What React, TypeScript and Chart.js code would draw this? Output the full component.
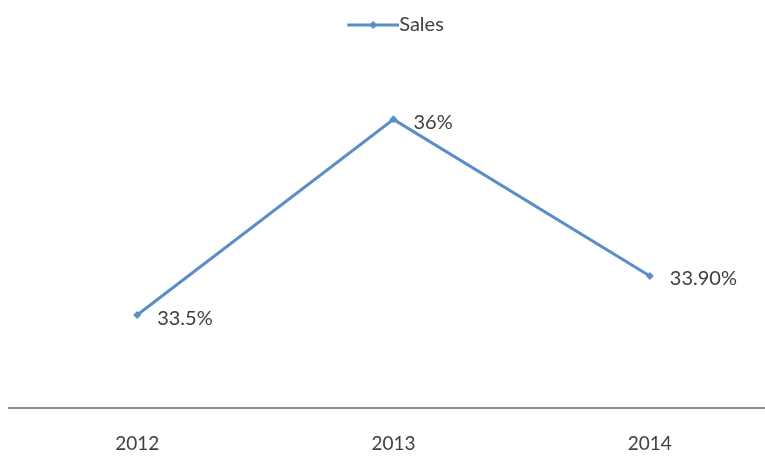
import React, { useEffect, useRef } from "react";
import { Chart, registerables } from "chart.js";

Chart.register(...registerables);

const categories = ["2012", "2013", "2014"];
const salesValues = [33.5, 36, 34];
const valueLabels = ["33.5%", "36%", "33.90%"];
const seriesName = "Sales";

const LINE_COLOR = "#5b8ec6";
const TEXT_COLOR = "#404040";
const FONT = "Lato, 'Open Sans', sans-serif";

function makeLegendSymbol(): HTMLCanvasElement {
  const c = document.createElement("canvas");
  c.width = 62;
  c.height = 10;
  const ctx = c.getContext("2d")!;
  ctx.strokeStyle = LINE_COLOR;
  ctx.lineWidth = 3;
  ctx.beginPath();
  ctx.moveTo(10, 5);
  ctx.lineTo(62, 5);
  ctx.stroke();
  ctx.fillStyle = LINE_COLOR;
  ctx.beginPath();
  ctx.moveTo(36, 1);
  ctx.lineTo(40, 5);
  ctx.lineTo(36, 9);
  ctx.lineTo(32, 5);
  ctx.closePath();
  ctx.fill();
  return c;
}

const dataLabelPlugin = {
  id: "dataLabelPlugin",
  afterDatasetsDraw(chart: any) {
    const meta = chart.getDatasetMeta(0);
    const ctx = chart.ctx;
    ctx.save();
    ctx.font = `20px ${FONT}`;
    ctx.fillStyle = TEXT_COLOR;
    ctx.textAlign = "left";
    ctx.textBaseline = "middle";
    meta.data.forEach((pt: any, i: number) => {
      ctx.fillText(valueLabels[i], pt.x + 20, pt.y + 3);
    });
    ctx.restore();
  },
};

export default function App() {
  const ref = useRef<HTMLCanvasElement>(null);
  useEffect(() => {
    const symbol = makeLegendSymbol();
    const chart = new Chart(ref.current!, {
      type: "line",
      data: {
        labels: categories,
        datasets: [
          {
            label: seriesName,
            data: salesValues,
            borderColor: LINE_COLOR,
            backgroundColor: LINE_COLOR,
            borderWidth: 3,
            pointStyle: "rectRot",
            pointRadius: 4,
            pointBorderWidth: 0,
            tension: 0,
          },
        ],
      },
      options: {
        animation: false,
        responsive: true,
        maintainAspectRatio: false,
        layout: { padding: { top: 5, left: 9, right: 0, bottom: 4 } },
        plugins: {
          tooltip: { enabled: false },
          legend: {
            display: true,
            position: "top",
            labels: {
              usePointStyle: true,
              pointStyleWidth: 42,
              color: TEXT_COLOR,
              font: { family: FONT, size: 20 },
              padding: 10,
              generateLabels: (ch: any) => {
                const items = (Chart as any).defaults.plugins.legend.labels.generateLabels(ch);
                items.forEach((it: any) => {
                  it.pointStyle = symbol;
                });
                return items;
              },
            },
          },
        },
        scales: {
          x: {
            offset: true,
            grid: { display: false, drawTicks: false },
            border: { display: true, color: "#8c8c8c", width: 2 },
            ticks: {
              color: TEXT_COLOR,
              font: { family: FONT, size: 19 },
              padding: 24,
            },
          },
          y: {
            display: false,
            min: 32.31,
            max: 36.95,
          },
        },
      },
      plugins: [dataLabelPlugin],
    });
    return () => chart.destroy();
  }, []);

  return (
    <div
      style={{
        position: "fixed",
        left: 0,
        top: 0,
        width: 765,
        height: 456,
        overflow: "hidden",
        background: "#fff",
      }}
    >
      <div style={{ width: 782, height: 483, position: "relative" }}>
        <canvas ref={ref} />
      </div>
    </div>
  );
}
